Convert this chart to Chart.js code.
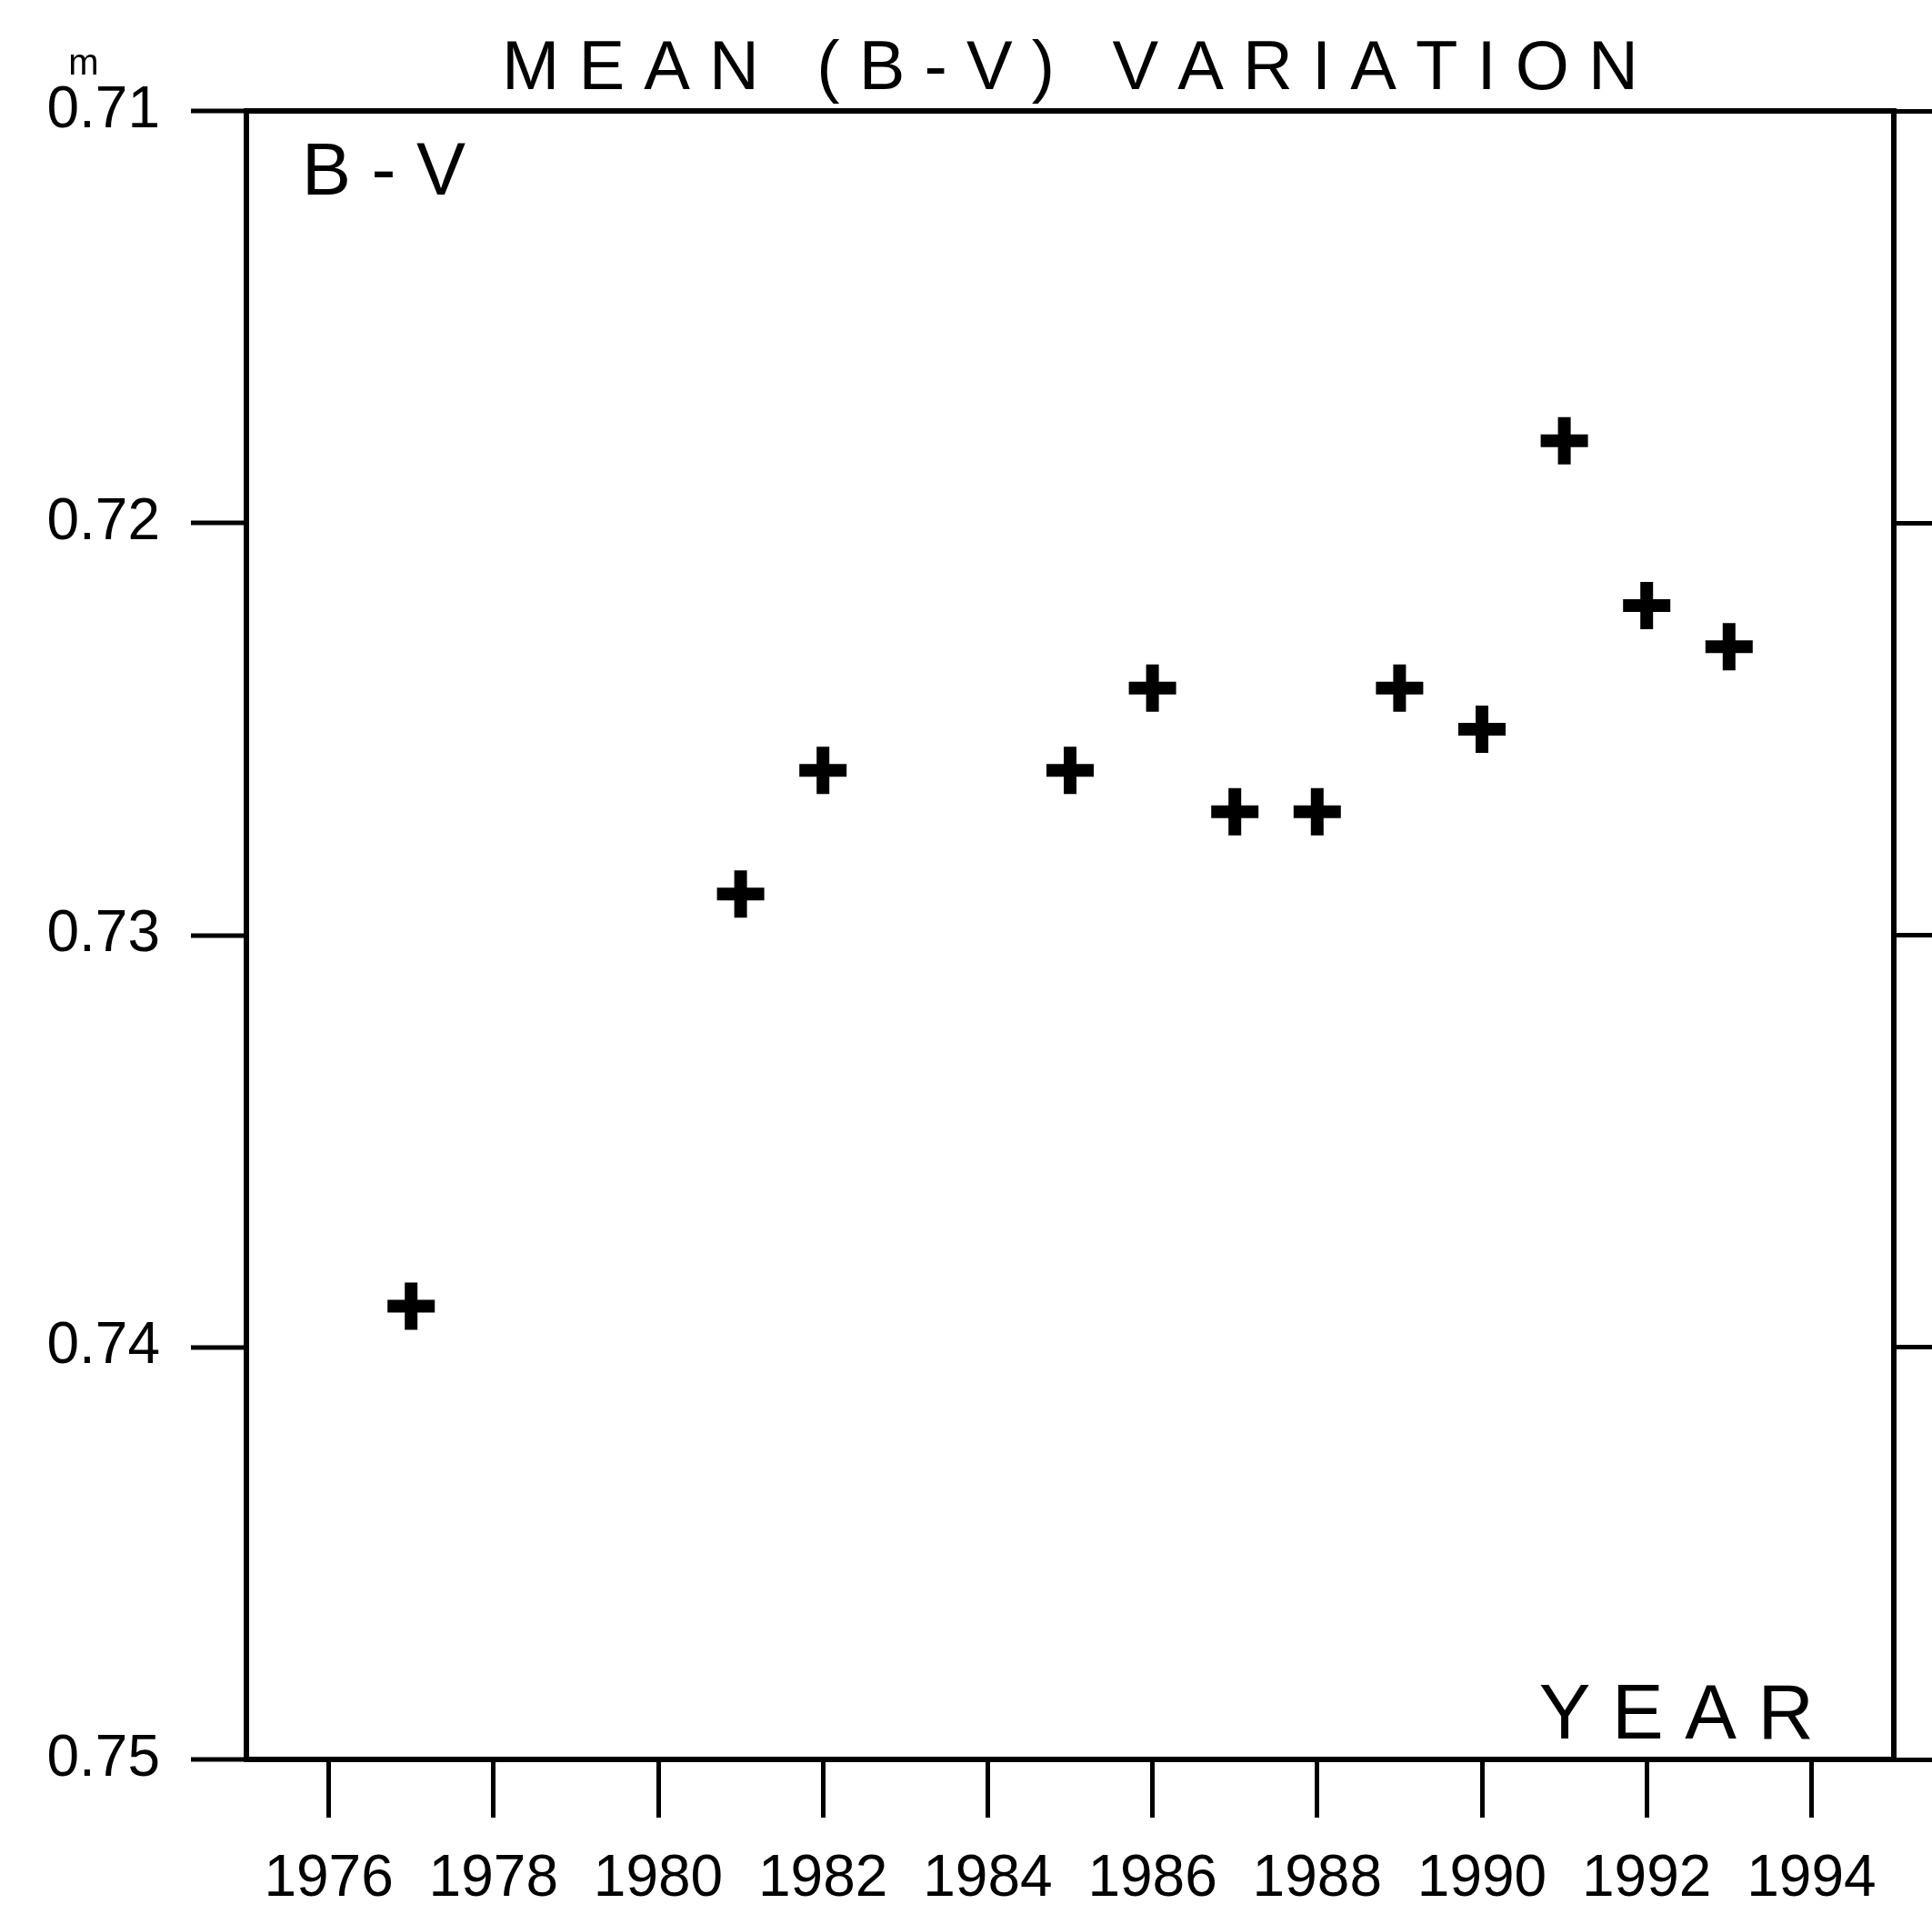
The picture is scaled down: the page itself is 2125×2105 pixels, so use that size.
<!DOCTYPE html>
<html>
<head>
<meta charset="utf-8">
<script src="https://cdn.jsdelivr.net/npm/chart.js@4"></script>
<style>
  html, body { margin: 0; padding: 0; background: #fff; }
  #wrap { width: 2125px; height: 2105px; }
</style>
</head>
<body>
<div id="wrap"><canvas id="c" width="2125" height="2105"></canvas></div>
<script>
// ---- data ----
const years = [1977, 1981, 1982, 1985, 1986, 1987, 1988, 1989, 1990, 1991, 1992, 1993];
const bvValues = [0.739, 0.729, 0.726, 0.726, 0.724, 0.727, 0.727, 0.724, 0.725, 0.718, 0.722, 0.723];
const xTicks = [1976, 1978, 1980, 1982, 1984, 1986, 1988, 1990, 1992, 1994];
const yTicks = [0.71, 0.72, 0.73, 0.74, 0.75];
const titleText = 'M E A N   ( B - V )   V A R I A T I O N';
const panelLabel = 'B - V';
const xAxisLabel = 'Y E A R';
const unitLabel = 'm';

const FONT = "'Liberation Sans', Arial, sans-serif";
const BLACK = '#000';

const points = years.map((y, i) => ({ x: y, y: bvValues[i] }));

const textPlugin = {
  id: 'innerTexts',
  afterDraw(chart) {
    const ctx = chart.ctx;
    const a = chart.chartArea;
    const ys = chart.scales.y;
    ctx.save();
    ctx.fillStyle = BLACK;
    ctx.textBaseline = 'alphabetic';
    // panel label top-left
    ctx.font = '81px ' + FONT;
    ctx.textAlign = 'left';
    ctx.fillText(panelLabel, a.left + 61, a.top + 92);
    // YEAR label bottom-right inside plot
    ctx.font = '85px ' + FONT;
    ctx.textAlign = 'right';
    ctx.fillText(xAxisLabel, a.right - 88, a.bottom - 23);
    // magnitude unit mark above top tick label
    ctx.font = '40px ' + FONT;
    ctx.textAlign = 'center';
    ctx.fillText(unitLabel, ys.right - 179, ys.getPixelForValue(yTicks[0]) - 40);
    ctx.restore();
  }
};

const edgeColor = (c) => {
  if (!c.tick) return 'rgba(0,0,0,0)';
  const v = c.tick.value;
  return (Math.abs(v - yTicks[0]) < 1e-9 || Math.abs(v - yTicks[yTicks.length - 1]) < 1e-9) ? BLACK : 'rgba(0,0,0,0)';
};

new Chart(document.getElementById('c'), {
  type: 'scatter',
  data: {
    datasets: [{
      label: panelLabel,
      data: points,
      pointStyle: 'cross',
      pointRadius: 26,
      pointHoverRadius: 26,
      borderWidth: 14,
      pointBorderWidth: 14,
      borderColor: BLACK,
      backgroundColor: BLACK,
      showLine: false
    }]
  },
  options: {
    responsive: false,
    devicePixelRatio: 1,
    animation: false,
    layout: { padding: 0 },
    plugins: {
      legend: { display: false },
      tooltip: { enabled: false },
      title: {
        display: true,
        text: titleText,
        fullSize: false,
        color: BLACK,
        font: { family: FONT, size: 76, weight: 'normal' },
        padding: { top: 31, bottom: 0 }
      }
    },
    scales: {
      x: {
        type: 'linear',
        position: 'bottom',
        min: 1975,
        max: 1995,
        afterBuildTicks: (s) => { s.ticks = xTicks.map(v => ({ value: v })); },
        afterFit: (s) => { s.height = 170; },
        ticks: {
          color: BLACK,
          font: { family: FONT, size: 64 },
          padding: 30,
          maxRotation: 0,
          autoSkip: false,
          callback: (v) => String(v)
        },
        grid: {
          drawOnChartArea: false,
          drawTicks: true,
          tickLength: 64,
          tickColor: BLACK,
          tickWidth: 5,
          lineWidth: 5,
          color: BLACK
        },
        border: { display: true, color: BLACK, width: 6 }
      },
      y: {
        type: 'linear',
        position: 'left',
        reverse: true,
        min: 0.71,
        max: 0.75,
        afterBuildTicks: (s) => { s.ticks = yTicks.map(v => ({ value: v })); },
        afterFit: (s) => { s.width = 271; },
        ticks: {
          color: BLACK,
          font: { family: FONT, size: 64 },
          padding: 34,
          autoSkip: false,
          callback: (v) => Number(v).toFixed(2)
        },
        grid: {
          drawOnChartArea: true,
          drawTicks: true,
          tickLength: 61,
          tickColor: BLACK,
          tickWidth: 5,
          lineWidth: 6,
          color: edgeColor
        },
        border: { display: true, color: BLACK, width: 6 }
      },
      y2: {
        type: 'linear',
        position: 'right',
        reverse: true,
        min: 0.71,
        max: 0.75,
        afterBuildTicks: (s) => { s.ticks = yTicks.map(v => ({ value: v })); },
        afterFit: (s) => { s.width = 42; },
        ticks: { display: false },
        grid: {
          drawOnChartArea: false,
          drawTicks: true,
          tickLength: 42,
          tickColor: BLACK,
          tickWidth: 5,
          lineWidth: 5,
          color: BLACK
        },
        border: { display: true, color: BLACK, width: 6 }
      }
    }
  },
  plugins: [textPlugin]
});
</script>
</body>
</html>
